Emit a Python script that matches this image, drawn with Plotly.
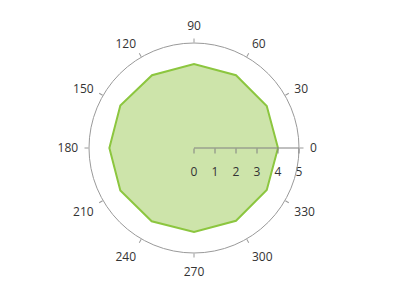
import plotly.graph_objects as go

angles = [0, 30, 60, 90, 120, 150, 180, 210, 240, 270, 300, 330]
values = [4, 4, 4, 4, 4, 4.05, 4.03, 4.05, 4.03, 4, 4, 4]
radial_ticks = [0, 1, 2, 3, 4, 5]

theta = angles + [angles[0]]
r = values + [values[0]]

fig = go.Figure()
fig.add_trace(go.Scatterpolar(
    r=r, theta=theta, mode="lines", fill="toself",
    fillcolor="rgba(205,228,170,1)",
    line=dict(color="#8cc63f", width=2),
    hoverinfo="skip", showlegend=False, subplot="polar",
))
# empty trace to render the overlay polar (visible tick marks and axis lines)
fig.add_trace(go.Scatterpolar(
    r=[None], theta=[None], mode="lines", hoverinfo="skip",
    showlegend=False, subplot="polar2",
))

common_ang = dict(direction="counterclockwise", rotation=0,
                  tickmode="array", tickvals=angles,
                  ticktext=[str(a) for a in angles], showgrid=False)
common_rad = dict(range=[0, 5], tickmode="array", tickvals=radial_ticks,
                  ticktext=[str(t) for t in radial_ticks], showgrid=False,
                  angle=0, tickangle=0, side="clockwise")

fig.update_layout(
    width=400, height=295,
    margin=dict(l=89, r=101, t=43, b=42),
    paper_bgcolor="white",
    font=dict(family="Open Sans, sans-serif", size=12, color="#333333"),
    polar=dict(
        domain=dict(x=[0, 1], y=[0, 1]),
        bgcolor="white",
        angularaxis=dict(**common_ang, showline=False,
                         ticks="outside", ticklen=8, tickcolor="rgba(0,0,0,0)",
                         tickfont=dict(size=12, color="#333333")),
        radialaxis=dict(**common_rad, showline=False,
                        ticks="outside", ticklen=13, tickcolor="rgba(0,0,0,0)",
                        tickfont=dict(size=12, color="#333333")),
    ),
    polar2=dict(
        domain=dict(x=[0, 1], y=[0, 1]),
        bgcolor="rgba(0,0,0,0)",
        angularaxis=dict(**common_ang, showline=True, linecolor="#9a9a9a",
                         linewidth=1, ticks="outside", ticklen=4,
                         tickcolor="#9a9a9a", showticklabels=False),
        radialaxis=dict(**common_rad, showline=True, linecolor="#808080",
                        linewidth=1, ticks="outside", ticklen=5,
                        tickcolor="#808080", showticklabels=False),
    ),
)

fig.write_html("out.html")
